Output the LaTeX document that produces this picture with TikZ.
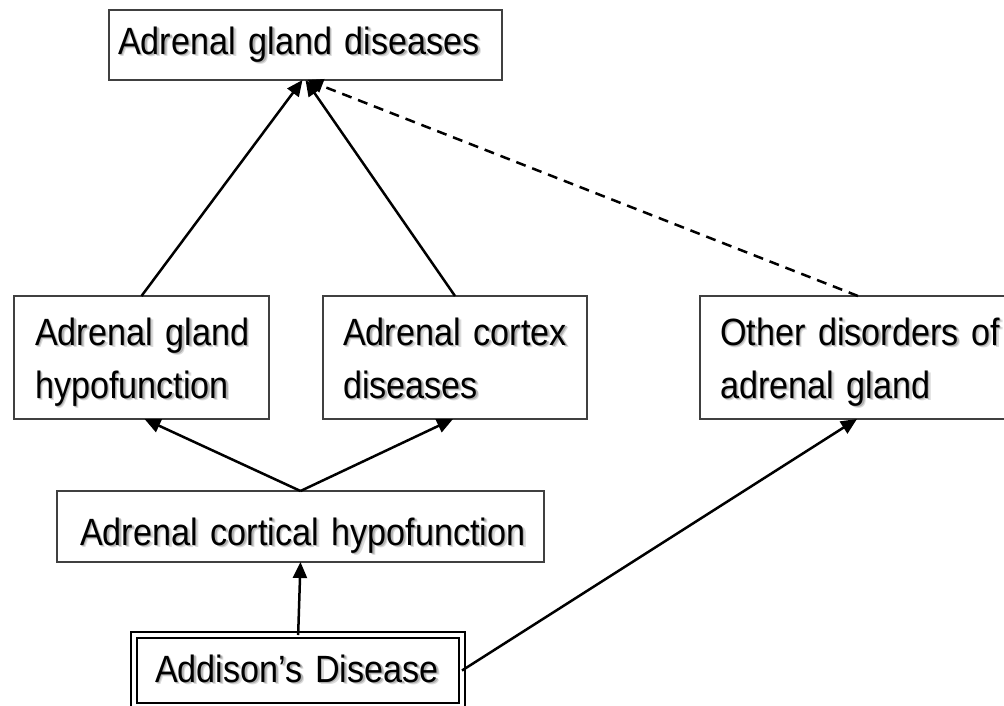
\documentclass[tikz,border=0pt]{standalone}
\usepackage{fontspec}
\setmainfont[FakeStretch=0.9]{Liberation Sans}
\usetikzlibrary{arrows.meta}
\newcommand\bigfont{\fontsize{38}{53}\selectfont}
\hfuzz=100pt
\hbadness=10000
\definecolor{framegray}{gray}{0.25}
\tikzset{
  boxbase/.style={rectangle, anchor=north west, inner ysep=0pt, outer sep=0pt,
    align=left, font=\bigfont, text=black},
  plainbox/.style={boxbase, draw=framegray, line width=1.4pt},
  dblbox/.style={boxbase, draw=black, line width=2pt, double=white, double distance=4pt},
  geom/.style n args={4}{text width=#1pt, inner xsep=#2pt, text height=#3pt, text depth=#4pt},
  ghost/.style={draw=none, double=none, text=#1},
  link/.style={draw=black, line width=2.5pt, -{Triangle[length=16pt,width=14pt]}},
  dashlink/.style={link, dash pattern=on 10pt off 7pt},
}
% a framed label with a soft drop shadow behind its text
\newcommand\labelbox[5]{%
  \node[#2, geom=#3, ghost=gray!28, xshift=2.8pt, yshift=-2.8pt] at #4 {#5};
  \node[#2, geom=#3, ghost=gray!62, xshift=1.5pt, yshift=-1.5pt] at #4 {#5};
  \node[#2, geom=#3] (#1) at #4 {#5};
}
\begin{document}
\begin{tikzpicture}[x=1pt, y=-1pt]
\useasboundingbox (0,0) rectangle (1004,705);

\labelbox{adg}{plainbox}{{375}{9}{44}{26}}{(109,10)}{\mbox{Adrenal gland diseases}}
\labelbox{hypo}{plainbox}{{213}{21}{49}{74}}{(14,296)}{\mbox{Adrenal gland}\\\mbox{hypofunction}}
\labelbox{cortex}{plainbox}{{224}{20}{49}{74}}{(323,296)}{\mbox{Adrenal cortex}\\\mbox{diseases}}
\labelbox{other}{plainbox}{{280}{20}{49}{74}}{(700,296)}{\mbox{Other disorders of}\\\mbox{adrenal gland}}
\labelbox{cortical}{plainbox}{{441}{23}{54}{17}}{(57,491)}{\mbox{Adrenal cortical hypofunction}}
\labelbox{addison}{dblbox}{{286.3}{20.7}{47}{24}}{(134.3,635)}{\mbox{Addison’s Disease}}

% is-a links
\draw[link] (hypo.north) -- ([xshift=-3pt]adg.south);
\draw[link] (cortex.north) -- ([xshift=0pt]adg.south);
\draw[dashlink] ([xshift=-2pt]other.north) -- ([xshift=1.5pt]adg.south);
\draw[link] (cortical.north) -- ([xshift=3pt]hypo.south);
\draw[link] (cortical.north) -- ([xshift=-2pt]cortex.south);
\draw[link] (addison.north) -- (cortical.south);
\draw[link] (addison.east) -- ([xshift=-3pt]other.south);
\end{tikzpicture}
\end{document}
